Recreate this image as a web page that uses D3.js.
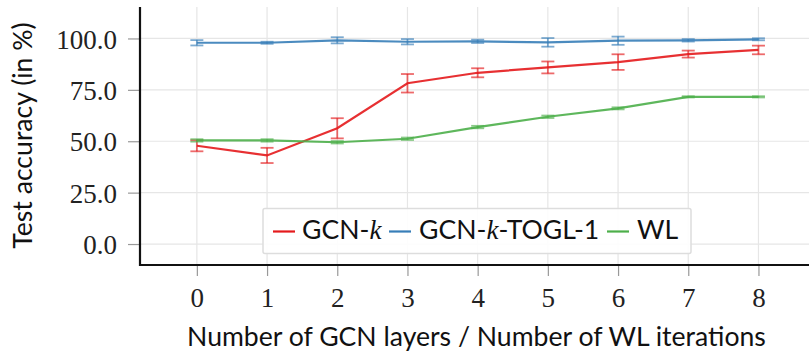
<!DOCTYPE html>
<html><head><meta charset="utf-8">
<script src="https://cdn.jsdelivr.net/npm/d3@7"></script>
<style>body{margin:0;background:#fff}svg{display:block}</style>
</head><body>
<svg id="c" width="809" height="351"></svg>
<script>
const layers = [0,1,2,3,4,5,6,7,8];
const yTicks = [0,25,50,75,100];
const gcnMean = [47.8,43.1,56.3,78.2,83.3,85.9,88.5,92.4,94.4];
const gcnErr  = [2.7,3.7,4.9,4.5,2.2,2.9,3.8,1.7,2.1];
const toglMean = [97.9,97.9,99.1,98.4,98.6,98.1,98.9,99.1,99.6];
const toglErr  = [1.3,0.5,1.5,1.3,0.8,2.1,2.0,0.6,0.5];
const wlMean = [50.4,50.4,49.5,51.2,56.9,61.9,66.0,71.6,71.6];
const wlErr  = [0.6,0.6,0.6,0.6,0.6,0.6,0.5,0.3,0.3];
const seriesNames = ["GCN-k","GCN-k-TOGL-1","WL"];
const colors = ["#e41a1c","#377eb8","#4daf4a"];

const svg = d3.select("#c");
const L=140, R=809, T=7, B=265;
const x = d3.scaleLinear().domain([-0.81,8.72]).range([L,R]);
const y = d3.scaleLinear().domain([-10.2,115.3]).range([B,T]);

// grid
svg.append("g").selectAll("line").data(layers).join("line")
  .attr("x1",d=>x(d)).attr("x2",d=>x(d)).attr("y1",T).attr("y2",B)
  .attr("stroke","#e6e6e6").attr("stroke-width",1.2);
svg.append("g").selectAll("line").data(yTicks).join("line")
  .attr("x1",L).attr("x2",R).attr("y1",d=>y(d)).attr("y2",d=>y(d))
  .attr("stroke","#e6e6e6").attr("stroke-width",1.2);

// axes
const xAxis = svg.append("g").attr("transform",`translate(0,${B})`)
  .call(d3.axisBottom(x).tickValues(layers).tickFormat(d3.format("d")).tickSize(11).tickPadding(12));
const yAxis = svg.append("g").attr("transform",`translate(${L},0)`)
  .call(d3.axisLeft(y).tickValues(yTicks).tickFormat(d3.format(".1f")).tickSize(12).tickPadding(11));
[xAxis,yAxis].forEach(a=>{
  a.select(".domain").remove();
  a.selectAll(".tick line").attr("stroke","#999").attr("stroke-width",1.2);
  a.selectAll(".tick text").attr("font-family","Liberation Serif, serif").attr("font-size",27).attr("fill","#222");
});
yAxis.selectAll(".tick text").attr("dy","0.36em");
svg.append("line").attr("x1",L).attr("x2",L).attr("y1",T).attr("y2",B+1).attr("stroke","#111").attr("stroke-width",2.2);
svg.append("line").attr("x1",L-1).attr("x2",R).attr("y1",B).attr("y2",B).attr("stroke","#111").attr("stroke-width",2.2);

// series
const all = [[gcnMean,gcnErr],[toglMean,toglErr],[wlMean,wlErr]];
const line = d3.line().x((d,i)=>x(layers[i])).y(d=>y(d));
all.forEach(([m,e],k)=>{
  const g = svg.append("g");
  const c = colors[k];
  const eb = g.append("g").attr("stroke",c).attr("stroke-opacity",0.65).attr("stroke-width",1.8);
  layers.forEach((l,i)=>{
    const xx=x(l), y1=y(m[i]-e[i]), y2=y(m[i]+e[i]);
    eb.append("line").attr("x1",xx).attr("x2",xx).attr("y1",y1).attr("y2",y2);
    eb.append("line").attr("x1",xx-6.5).attr("x2",xx+6.5).attr("y1",y1).attr("y2",y1);
    eb.append("line").attr("x1",xx-6.5).attr("x2",xx+6.5).attr("y1",y2).attr("y2",y2);
  });
  g.append("path").datum(m).attr("d",line).attr("fill","none").attr("stroke",c).attr("stroke-width",2.2).attr("stroke-opacity",0.9);
});

// axis titles
svg.append("text").attr("x",476.5).attr("y",346).attr("text-anchor","middle")
  .attr("font-family","Lato").attr("font-size",26.6).attr("fill","#111")
  .text("Number of GCN layers / Number of WL iterations");
svg.append("text").attr("transform","translate(32,135.5) rotate(-90)").attr("text-anchor","middle")
  .attr("font-family","Lato").attr("font-size",26.6).attr("fill","#111")
  .text("Test accuracy (in %)");

// legend
const lg = svg.append("g");
lg.append("rect").attr("x",263).attr("y",208.5).attr("width",428).attr("height",45)
  .attr("fill","#fff").attr("fill-opacity",0.9).attr("stroke","#ddd").attr("stroke-width",1.5).attr("rx",2);
const items = [
  {lx:273, tx:302, parts:[["GCN-",false],["k",true]]},
  {lx:389, tx:419, parts:[["GCN-",false],["k",true],["-TOGL-1",false]]},
  {lx:607, tx:637, parts:[["WL",false]]}
];
items.forEach((it,k)=>{
  lg.append("line").attr("x1",it.lx).attr("x2",it.lx+22).attr("y1",231.5).attr("y2",231.5)
    .attr("stroke",colors[k]).attr("stroke-width",2.2);
  const t = lg.append("text").attr("x",it.tx).attr("y",238.5).attr("font-family","Lato").attr("font-size",26.6).attr("fill","#111");
  it.parts.forEach(([s,ital])=>{
    const ts = t.append("tspan").text(s);
    if(ital) ts.attr("font-family","Liberation Serif, serif").attr("font-style","italic").attr("font-size",27);
  });
});
</script>
</body></html>
